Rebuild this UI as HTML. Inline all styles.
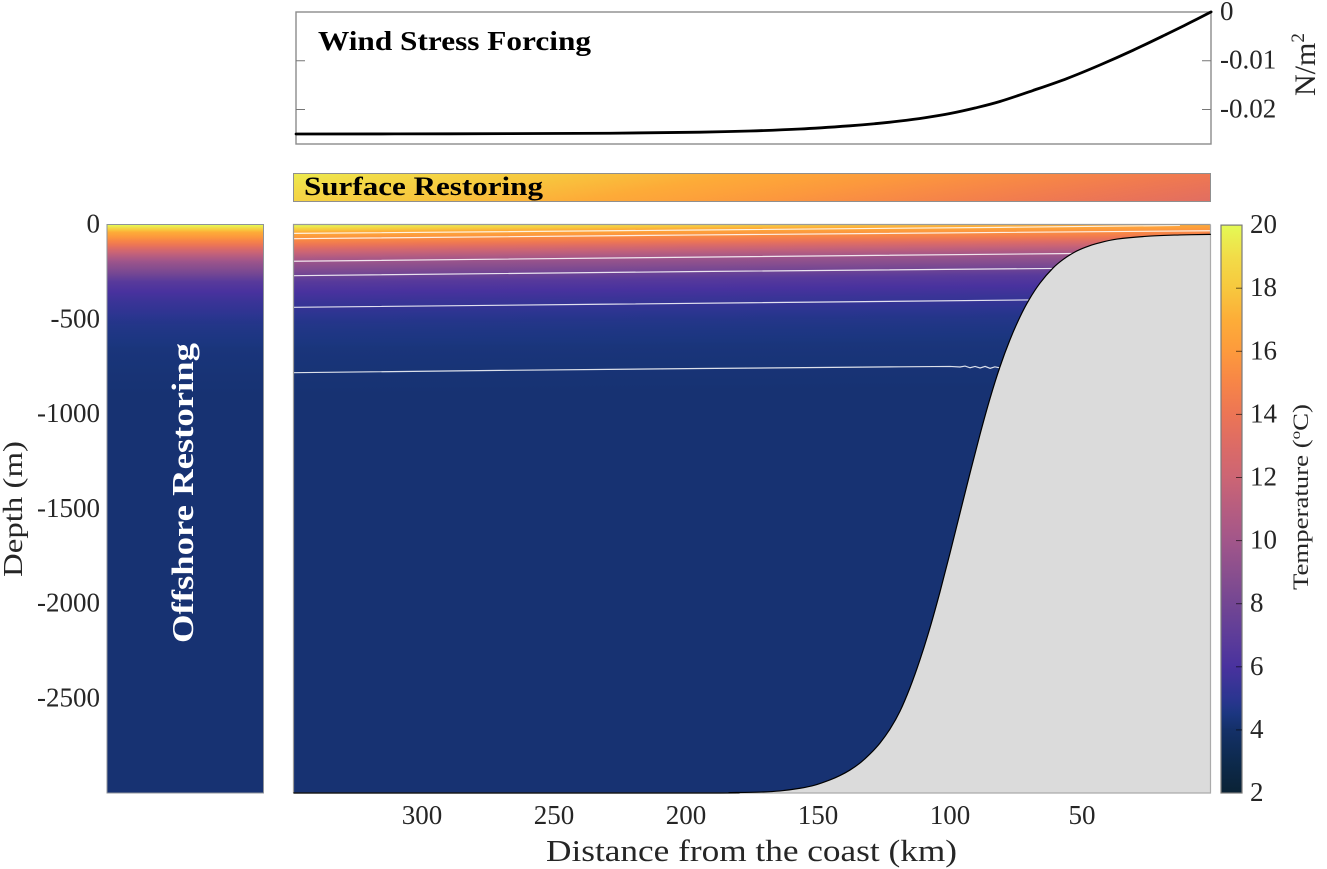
<!DOCTYPE html>
<html lang="en">
<head>
<meta charset="utf-8">
<title>Wind stress, restoring and temperature section</title>
<style>
html,body{margin:0;padding:0;background:#fff;width:1327px;height:869px;overflow:hidden}
svg{display:block;font-family:"Liberation Serif",serif}
text{fill:#262626}
</style>
</head>
<body>
<svg id="fig" xmlns="http://www.w3.org/2000/svg" width="1327" height="869" viewBox="0 0 1327 869">
  <defs id="defs"></defs>
  <g id="wind-panel"></g>
  <g id="surface-panel"></g>
  <g id="offshore-panel"></g>
  <g id="main-panel"></g>
  <g id="colorbar"></g>
  <g id="labels">
    <text x="546" y="861" font-size="31" textLength="411" lengthAdjust="spacingAndGlyphs">Distance from the coast (km)</text>
    <text transform="translate(22,577) rotate(-90)" font-size="27" textLength="136" lengthAdjust="spacingAndGlyphs">Depth (m)</text>
    <text transform="translate(1315,96) rotate(-90)" font-size="30">N/m<tspan font-size="19" dy="-11">2</tspan></text>
    <text transform="translate(1308,590) rotate(-90)" font-size="22" textLength="186" lengthAdjust="spacingAndGlyphs">Temperature (<tspan font-size="14" dy="-8">o</tspan><tspan dy="8">C)</tspan></text>
    <text x="318" y="50" font-size="27" font-weight="bold" style="fill:#000" textLength="273" lengthAdjust="spacingAndGlyphs">Wind Stress Forcing</text>
    <text x="304" y="195" font-size="26" font-weight="bold" style="fill:#000" textLength="239" lengthAdjust="spacingAndGlyphs">Surface Restoring</text>
    <text transform="translate(193,643) rotate(-90)" font-size="31" font-weight="bold" style="fill:#fff" textLength="300" lengthAdjust="spacingAndGlyphs">Offshore Restoring</text>
  </g>
</svg>
<script>
// ---------- data ----------
const xTickValues = [300, 250, 200, 150, 100, 50];
const depthTickValues = [0, -500, -1000, -1500, -2000, -2500];
const windTickValues = [0, -0.01, -0.02];
const windTickLabels = ['0', '-0.01', '-0.02'];
const colorbarTickValues = [20, 18, 16, 14, 12, 10, 8, 6, 4, 2];

const windDistance = [347.7, 289.4, 228.8, 194.7, 175.8, 156.8, 137.9, 128.4, 118.9, 109.5, 100, 90.5, 81.1, 68.6, 55.7, 43.2, 30.7, 17.8, 9.1, 1.1];
const windStress = [-0.02502, -0.02498, -0.02486, -0.02465, -0.02441, -0.024, -0.02334, -0.02291, -0.02236, -0.02168, -0.02082, -0.01969, -0.01836, -0.01611, -0.01365, -0.01088, -0.00787, -0.00453, -0.00221, 0];

const topoDistance = [348.7, 194.7, 183.3, 172, 164.4, 156.8, 151.1, 145.5, 141.7, 137.9, 134.1, 130.3, 126.5, 122.7, 118.9, 115.2, 111.4, 107.6, 103.8, 100, 96.2, 92.4, 88.6, 84.8, 81.1, 77.3, 73.5, 70.1, 65.9, 61, 57.2, 52.7, 48.5, 44.3, 36.7, 24.2, 12.9, 1.2];
const topoDepth = [3000, 3000, 2998, 2995, 2989, 2975, 2958, 2931, 2908, 2879, 2842, 2794, 2736, 2662, 2567, 2446, 2298, 2129, 1939, 1734, 1522, 1311, 1106, 916, 752, 609, 488, 398, 309, 230, 185, 145, 119, 100, 77, 61, 55, 52];

const profileDepth = [0, 8, 40, 75, 108, 145, 198, 251, 303, 356, 409, 515, 657, 900, 3000];
const profileTemp = [20, 19.7, 17, 15.5, 14, 12, 9.7, 8.3, 6.7, 6, 5.5, 4.8, 4.4, 4.2, 4.2];

const surfaceTempRange = [19.5, 13.3];

const isoDist1 = [348.7, 194.7, 81.1, 12.9];
const isoDepth1 = [47, 29, 15, 5];
const isoDist2 = [348.7, 194.7, 1.5];
const isoDepth2 = [75, 55, 33];
const isoDist3 = [348.7, 194.7, 52.7];
const isoDepth3 = [194, 172, 153];
const isoDist4 = [348.7, 194.7, 60.2];
const isoDepth4 = [270, 248, 232];
const isoDist5 = [348.7, 232.6, 118.9, 70];
const isoDepth5 = [437, 421, 405, 398];
const isoDist6 = [348.7, 270.5, 194.7, 118.9, 100, 96.2, 94.3, 92.4, 90.5, 88.6, 86.7, 84.8, 83, 81];
const isoDepth6 = [782, 770, 760, 751, 749, 752, 747, 756, 749, 757, 749, 759, 751, 757];

const cmapTemp = [2, 3, 4, 4.5, 5, 6, 7, 8, 9, 10, 11, 12, 13, 14, 15, 16, 17, 18, 19, 20];
const cmapColor = ['#0a2235', '#0d2a4d', '#143068', '#1b3680', '#2b3590', '#49329e', '#5e3d99', '#734693', '#8a4f8e', '#a2568a', '#b65d80', '#cc6574', '#dc6b66', '#ec7555', '#f78547', '#fd9a3c', '#fdad38', '#f7c83e', '#f2dc48', '#e4fa55'];

// ---------- axis functions ----------
const xS = d => 1214 - 2.64 * d;
const yS = z => 224.5 + 0.1895 * z;
const tauS = t => 11.9 - 4880 * t;
const cbS = T => 793 - (T - 2) * 31.55;

const NS = 'http://www.w3.org/2000/svg';
function mk(tag, attrs, parent, txt) {
  const e = document.createElementNS(NS, tag);
  for (const k in attrs) e.setAttribute(k, attrs[k]);
  if (txt !== undefined) e.textContent = txt;
  parent.appendChild(e);
  return e;
}
function hex(c) { return [1, 3, 5].map(i => parseInt(c.substr(i, 2), 16)); }
function cmap(T) {
  T = Math.max(cmapTemp[0], Math.min(cmapTemp[cmapTemp.length - 1], T));
  let i = 0;
  while (i < cmapTemp.length - 2 && T > cmapTemp[i + 1]) i++;
  const f = (T - cmapTemp[i]) / (cmapTemp[i + 1] - cmapTemp[i]);
  const a = hex(cmapColor[i]), b = hex(cmapColor[i + 1]);
  return 'rgb(' + a.map((v, j) => Math.round(v + (b[j] - v) * f)).join(',') + ')';
}
function smooth(xs, ys) {
  let p = 'M' + xs[0].toFixed(2) + ' ' + ys[0].toFixed(2);
  for (let i = 0; i < xs.length - 1; i++) {
    const i0 = Math.max(i - 1, 0), i3 = Math.min(i + 2, xs.length - 1);
    const c1x = xs[i] + (xs[i + 1] - xs[i0]) / 6, c1y = ys[i] + (ys[i + 1] - ys[i0]) / 6;
    const c2x = xs[i + 1] - (xs[i3] - xs[i]) / 6, c2y = ys[i + 1] - (ys[i3] - ys[i]) / 6;
    p += 'C' + [c1x, c1y, c2x, c2y, xs[i + 1], ys[i + 1]].map(v => v.toFixed(2)).join(' ');
  }
  return p;
}
const defs = document.getElementById('defs');

// field gradient stops from the temperature profile
function profileStops(grad) {
  const span = 3000;
  for (let i = 0; i < profileDepth.length - 1; i++) {
    const n = 5;
    for (let k = 0; k < n; k++) {
      const f = k / n;
      const z = profileDepth[i] + (profileDepth[i + 1] - profileDepth[i]) * f;
      const T = profileTemp[i] + (profileTemp[i + 1] - profileTemp[i]) * f;
      mk('stop', { offset: z / span, 'stop-color': cmap(T) }, grad);
    }
  }
  mk('stop', { offset: 1, 'stop-color': cmap(profileTemp[profileTemp.length - 1]) }, grad);
}
const H = yS(3000) - yS(0);
const tilt = 8 / 917;
const gField = mk('linearGradient', { id: 'g-field', gradientUnits: 'userSpaceOnUse', x1: 293.5, y1: yS(0), x2: 293.5 + H * tilt, y2: yS(0) + H }, defs);
profileStops(gField);
const gOff = mk('linearGradient', { id: 'g-off', gradientUnits: 'userSpaceOnUse', x1: 0, y1: yS(0), x2: 0, y2: yS(3000) }, defs);
profileStops(gOff);

const gSurf = mk('linearGradient', { id: 'g-surf', gradientUnits: 'userSpaceOnUse', x1: 293.5, y1: 173, x2: 323.3, y2: 350 }, defs);
for (let i = 0; i <= 12; i++) {
  const T = surfaceTempRange[0] + (surfaceTempRange[1] - surfaceTempRange[0]) * i / 12;
  mk('stop', { offset: i / 12, 'stop-color': cmap(T) }, gSurf);
}
const gBar = mk('linearGradient', { id: 'g-bar', gradientUnits: 'userSpaceOnUse', x1: 0, y1: cbS(20), x2: 0, y2: cbS(2) }, defs);
cmapTemp.slice().reverse().forEach(T => {
  mk('stop', { offset: (20 - T) / 18, 'stop-color': cmap(T) }, gBar);
});
const clip = mk('clipPath', { id: 'clip-main' }, defs);
mk('rect', { x: 293.5, y: 224.5, width: 917, height: H }, clip);

// ---------- wind panel ----------
const wind = document.getElementById('wind-panel');
const windFrame = mk('rect', { x: 296, y: 12, width: 915, height: 132, fill: '#fff', stroke: '#8c8c8c', 'stroke-width': 1.4 }, wind);


windTickValues.forEach((v, i) => {
  const y = tauS(v);
  if (v !== 0) {
    const tl = mk('path', { d: 'M296 ' + y + 'H305M1202 ' + y + 'H1211', stroke: '#777', 'stroke-width': 1, fill: 'none' }, wind);
    
    
  }
  const t = mk('text', { x: 1220, y: y + 8, 'font-size': 27 }, wind, windTickLabels[i]);
  
  
});
const windLine = mk('path', { d: smooth(windDistance.map(xS), windStress.map(tauS)), fill: 'none', stroke: '#000', 'stroke-width': 2.8, 'stroke-linecap': 'round' }, wind);



// ---------- surface restoring ----------
const surf = document.getElementById('surface-panel');
const surfBar = mk('rect', { x: 293.5, y: 173.5, width: 917, height: 28, fill: 'url(#g-surf)', stroke: '#8f8f8f', 'stroke-width': 1 }, surf);



// ---------- offshore restoring ----------
const off = document.getElementById('offshore-panel');
const offBar = mk('rect', { x: 107, y: 224.5, width: 156.5, height: H, fill: 'url(#g-off)', stroke: '#8f9399', 'stroke-width': 1 }, off);


depthTickValues.forEach(v => {
  const t = mk('text', { x: 100, y: yS(-v) + 8, 'font-size': 27, 'text-anchor': 'end' }, off, String(v));
  
  
});

// ---------- main section ----------
const main = document.getElementById('main-panel');
const field = mk('rect', { x: 293.5, y: 224.5, width: 917, height: H, fill: 'url(#g-field)' }, main);



const isoG = mk('g', { 'clip-path': 'url(#clip-main)' }, main);


[[isoDist1, isoDepth1], [isoDist2, isoDepth2], [isoDist3, isoDepth3], [isoDist4, isoDepth4], [isoDist5, isoDepth5], [isoDist6, isoDepth6]].forEach(pair => {
  const pts = pair[0].map((d, i) => xS(d).toFixed(2) + ',' + yS(pair[1][i]).toFixed(2)).join(' ');
  const l = mk('polyline', { points: pts, fill: 'none', stroke: '#fff', 'stroke-width': 1.2, 'stroke-opacity': 0.85 }, isoG);
  
  
});

const tx = topoDistance.map(xS), ty = topoDepth.map(yS);
const curve = smooth(tx, ty);
const topoFill = mk('path', { d: curve + 'L1210.5 793L293.5 793Z', fill: '#dbdbdb' }, main);


const frameA = mk('path', { d: 'M293.5 793V224.5H1210.5', fill: 'none', stroke: '#9a9a9a', 'stroke-width': 1.2 }, main);


const frameB = mk('path', { d: 'M1210.5 224.5V793H293.5', fill: 'none', stroke: '#ababab', 'stroke-width': 1.2 }, main);


const topoLine = mk('path', { d: curve, fill: 'none', stroke: '#000', 'stroke-width': 1.2 }, main);


xTickValues.forEach(v => {
  const t = mk('text', { x: xS(v), y: 824, 'font-size': 27, 'text-anchor': 'middle' }, main, String(v));
  
  
});

// ---------- colorbar ----------
const cb = document.getElementById('colorbar');
const cbRect = mk('rect', { x: 1221, y: cbS(20), width: 21, height: cbS(2) - cbS(20), fill: 'url(#g-bar)', stroke: '#7a7a7a', 'stroke-width': 1.2 }, cb);


colorbarTickValues.forEach(v => {
  const y = cbS(v);
  if (v !== 20 && v !== 2) {
    const m = mk('line', { x1: 1236, x2: 1242, y1: y, y2: y, stroke: '#000', 'stroke-opacity': 0.6, 'stroke-width': 1 }, cb);
    
    
  }
  const t = mk('text', { x: 1250, y: y + 8, 'font-size': 27 }, cb, String(v));
  
  
});
</script>
</body>
</html>
